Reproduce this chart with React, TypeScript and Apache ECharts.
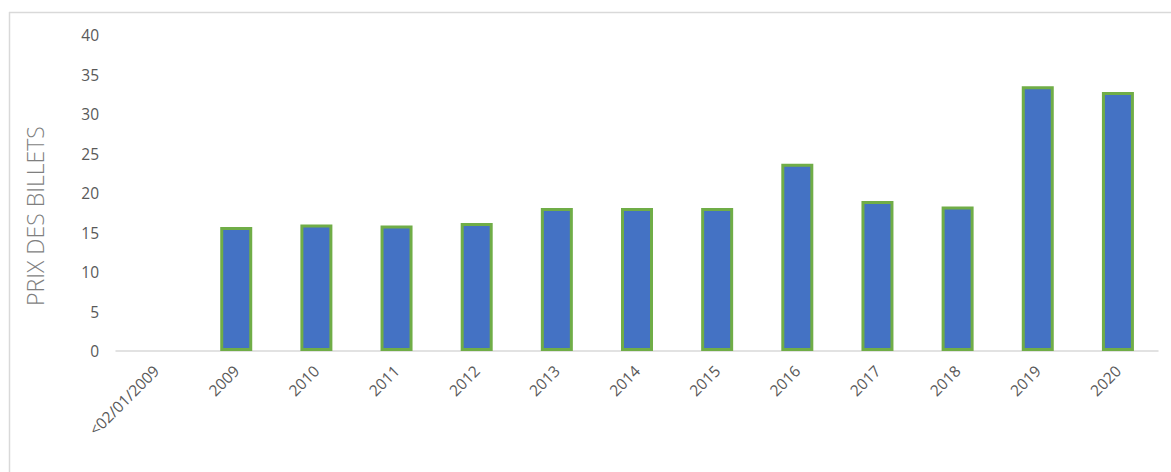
import React, { useEffect, useRef } from "react";
import * as echarts from "echarts";

const categories = ["<02/01/2009", "2009", "2010", "2011", "2012", "2013", "2014", "2015", "2016", "2017", "2018", "2019", "2020"];
const prices: (number | null)[] = [null, 15.7, 16.0, 15.9, 16.2, 18.1, 18.1, 18.1, 23.7, 19.0, 18.3, 33.5, 32.8];
const yAxisTitle = "PRIX DES BILLETS";

export default function App() {
  const ref = useRef<HTMLDivElement>(null);
  useEffect(() => {
    if (!ref.current) return;
    const chart = echarts.init(ref.current, null, { renderer: "svg" });
    const font = "'Open Sans', sans-serif";
    chart.setOption({
      animation: false,
      backgroundColor: "#ffffff",
      grid: { left: 116, right: 13, top: 35, bottom: 121, containLabel: false },
      xAxis: {
        type: "category",
        data: categories,
        axisLine: { show: true, lineStyle: { color: "#D9D9D9", width: 1.5 } },
        axisTick: { show: false },
        axisLabel: { rotate: 45, margin: 17, color: "#595959", fontSize: 15.5, fontFamily: font, interval: 0 },
      },
      yAxis: {
        type: "value",
        min: 0,
        max: 40,
        interval: 5,
        axisLine: { show: false },
        axisTick: { show: false },
        splitLine: { show: false },
        axisLabel: { color: "#595959", fontSize: 15.5, fontFamily: font, margin: 17 },
      },
      series: [
        {
          type: "bar",
          data: prices,
          barWidth: 32,
          itemStyle: { color: "#4472C4", borderColor: "#70AD47", borderWidth: 3 },
        },
      ],
      graphic: [
        { type: "line", shape: { x1: 9, y1: 12.5, x2: 1171, y2: 12.5 }, style: { stroke: "#D9D9D9", lineWidth: 1.5 } },
        { type: "line", shape: { x1: 9.5, y1: 12, x2: 9.5, y2: 472 }, style: { stroke: "#D9D9D9", lineWidth: 1.5 } },
        {
          type: "text",
          x: 35,
          y: 216,
          rotation: Math.PI / 2,
          style: {
            text: yAxisTitle,
            fill: "#7F7F7F",
            font: "300 23px 'Open Sans', sans-serif",
            align: "center",
            verticalAlign: "middle",
          },
        },
      ],
    });
    return () => chart.dispose();
  }, []);
  return <div ref={ref} style={{ position: "fixed", left: 0, top: 0, width: 1171, height: 472 }} />;
}
